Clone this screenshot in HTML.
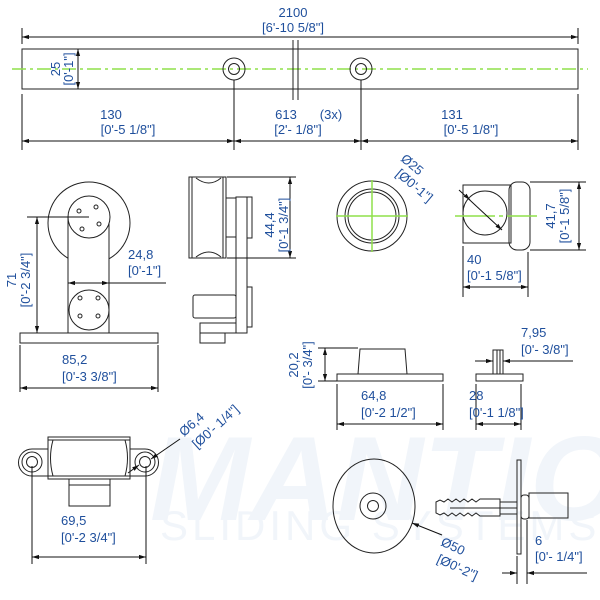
<!DOCTYPE html>
<html><head><meta charset="utf-8"><style>
html,body{margin:0;padding:0;background:#fff}
svg{display:block}
text{font-family:"Liberation Sans",sans-serif;font-size:13px;fill:#1f4f9c}
.l{stroke:#222;stroke-width:1;fill:none}
.d{stroke:#111;stroke-width:1;fill:none}
.g{stroke:#8fe04a;stroke-width:1.5;fill:none}
</style></head><body>
<svg width="600" height="600" viewBox="0 0 600 600" xmlns="http://www.w3.org/2000/svg">
<defs>
<marker id="a" viewBox="0 0 10 10" refX="10" refY="5" markerWidth="7" markerHeight="7" orient="auto-start-reverse"><path d="M0,2 L10,5 L0,8z" fill="#111"/></marker>
</defs>
<!-- watermark -->
<text x="150" y="520" style="font-size:120px;font-style:italic;font-weight:bold;fill:#f1f5fa">MANTION</text>
<text x="160" y="540" style="font-size:42px;fill:#f1f5fa;letter-spacing:4px">SLIDING SYSTEMS</text>

<!-- TOP BAR -->
<rect class="l" x="22" y="49" width="556" height="40"/>
<line class="g" x1="12" y1="69" x2="588" y2="69" stroke-dasharray="14,4,3,4"/>
<circle class="l" cx="234" cy="69" r="11"/><circle class="l" cx="234" cy="69" r="5.5"/>
<circle class="l" cx="361" cy="69" r="11"/><circle class="l" cx="361" cy="69" r="5.5"/>
<line x1="293" y1="40" x2="293" y2="100" class="l"/><line x1="298" y1="40" x2="298" y2="100" class="l"/>
<line class="d" x1="22" y1="28" x2="22" y2="44"/><line class="d" x1="578" y1="28" x2="578" y2="44"/>
<line class="d" x1="22" y1="37" x2="578" y2="37" marker-start="url(#a)" marker-end="url(#a)"/>
<text x="293" y="17" text-anchor="middle">2100</text>
<text x="293" y="32" text-anchor="middle">[6'-10 5/8"]</text>
<line class="d" x1="78" y1="49" x2="78" y2="89" marker-start="url(#a)" marker-end="url(#a)"/>
<text transform="translate(60,69) rotate(-90)" text-anchor="middle">25</text>
<text transform="translate(73,69) rotate(-90)" text-anchor="middle">[0'-1"]</text>
<line class="d" x1="22" y1="94" x2="22" y2="150"/><line class="d" x1="578" y1="94" x2="578" y2="150"/>
<line class="d" x1="234" y1="80" x2="234" y2="150"/><line class="d" x1="361" y1="80" x2="361" y2="150"/>
<line class="d" x1="22" y1="141" x2="234" y2="141" marker-start="url(#a)" marker-end="url(#a)"/>
<line class="d" x1="234" y1="141" x2="361" y2="141" marker-start="url(#a)" marker-end="url(#a)"/>
<line class="d" x1="361" y1="141" x2="578" y2="141" marker-start="url(#a)" marker-end="url(#a)"/>
<text x="111" y="119" text-anchor="middle">130</text>
<text x="128" y="134" text-anchor="middle">[0'-5 1/8"]</text>
<text x="286" y="119" text-anchor="middle">613</text>
<text x="331" y="119" text-anchor="middle">(3x)</text>
<text x="298" y="134" text-anchor="middle">[2'- 1/8"]</text>
<text x="452" y="119" text-anchor="middle">131</text>
<text x="471" y="134" text-anchor="middle">[0'-5 1/8"]</text>

<!-- LEFT FRONT VIEW -->
<circle class="l" cx="89" cy="223" r="41"/>
<rect x="68" y="217" width="41" height="116" fill="#fff" stroke="#222"/>
<circle class="l" cx="89" cy="217" r="21" fill="#fff" style="fill:#fff"/>
<circle cx="79" cy="211" r="2" class="l"/><circle cx="96" cy="207" r="2" class="l"/><circle cx="82" cy="229" r="2" class="l"/><circle cx="99" cy="224" r="2" class="l"/>
<circle class="l" cx="89" cy="310" r="20" style="fill:#fff"/>
<circle cx="80" cy="298" r="2" class="l"/><circle cx="98" cy="298" r="2" class="l"/><circle cx="80" cy="316" r="2" class="l"/><circle cx="98" cy="316" r="2" class="l"/>
<rect class="l" x="20" y="333" width="138" height="10"/>
<line class="d" x1="27" y1="217" x2="89" y2="217"/>
<line class="d" x1="37" y1="217" x2="37" y2="333" marker-start="url(#a)" marker-end="url(#a)"/>
<text transform="translate(16,280) rotate(-90)" text-anchor="middle">71</text>
<text transform="translate(30,280) rotate(-90)" text-anchor="middle">[0'-2 3/4"]</text>
<line class="d" x1="68" y1="283" x2="109" y2="283" marker-start="url(#a)" marker-end="url(#a)"/>
<line class="d" x1="109" y1="283" x2="166" y2="283"/>
<text x="128" y="259">24,8</text>
<text x="128" y="275">[0'-1"]</text>
<line class="d" x1="20" y1="345" x2="20" y2="392"/><line class="d" x1="158" y1="345" x2="158" y2="392"/>
<line class="d" x1="20" y1="388" x2="158" y2="388" marker-start="url(#a)" marker-end="url(#a)"/>
<text x="62" y="364">85,2</text>
<text x="62" y="381">[0'-3 3/8"]</text>

<!-- SIDE VIEW -->
<path class="l" d="M189,177 L226,177 L226,258 L189,258 Z"/>
<path class="l" d="M192,177 L192,258 M223,177 L223,258"/>
<path class="l" d="M196,178 Q209,188 221,178 M196,257 Q209,247 221,257"/>
<rect class="l" x="226" y="198" width="10" height="39"/>
<rect class="l" x="236" y="197" width="11" height="136"/>
<rect class="l" x="247" y="197" width="5" height="41"/>
<rect class="l" x="247" y="287" width="5" height="40"/>
<rect class="l" x="193" y="295" width="43" height="23" rx="2"/>
<rect class="l" x="200" y="323" width="36" height="10"/>
<rect class="l" x="200" y="333" width="25" height="10"/>
<line class="d" x1="227" y1="177" x2="296" y2="177"/><line class="d" x1="227" y1="258" x2="296" y2="258"/>
<line class="d" x1="290" y1="177" x2="290" y2="258" marker-start="url(#a)" marker-end="url(#a)"/>
<text transform="translate(274,225) rotate(-90)" text-anchor="middle">44,4</text>
<text transform="translate(288,225) rotate(-90)" text-anchor="middle">[0'-1 3/4"]</text>

<!-- CIRCLE VIEW -->
<circle class="l" cx="372" cy="216" r="35"/>
<circle class="l" cx="372" cy="216" r="27"/>
<circle class="l" cx="372" cy="216" r="24"/>
<line class="g" x1="336" y1="216" x2="408" y2="216"/>
<line class="g" x1="372" y1="180" x2="372" y2="252"/>

<!-- RIGHT VIEW -->
<rect class="l" x="463" y="185" width="48" height="58"/>
<circle class="l" cx="485" cy="213" r="22"/>
<rect class="l" x="509" y="182" width="21" height="68" rx="8"/>
<line class="g" x1="455" y1="216" x2="537" y2="216" stroke-dasharray="40,4,4,4"/>
<line class="d" x1="459" y1="190" x2="502" y2="230" marker-end="url(#a)"/>
<line class="d" x1="470" y1="200" x2="468" y2="198" marker-start="url(#a)"/>
<text transform="translate(400,160) rotate(40)">Ø25</text>
<text transform="translate(395,175) rotate(40)">[Ø0'-1"]</text>
<line class="d" x1="530" y1="182" x2="586" y2="182"/><line class="d" x1="530" y1="250" x2="586" y2="250"/>
<line class="d" x1="579" y1="182" x2="579" y2="250" marker-start="url(#a)" marker-end="url(#a)"/>
<text transform="translate(555,216) rotate(-90)" text-anchor="middle">41,7</text>
<text transform="translate(569,216) rotate(-90)" text-anchor="middle">[0'-1 5/8"]</text>
<line class="d" x1="463" y1="246" x2="463" y2="297"/><line class="d" x1="528" y1="252" x2="528" y2="297"/>
<line class="d" x1="463" y1="287" x2="528" y2="287" marker-start="url(#a)" marker-end="url(#a)"/>
<text x="467" y="264">40</text>
<text x="467" y="280">[0'-1 5/8"]</text>

<!-- BOTTOM MIDDLE PART -->
<rect class="l" x="337" y="374" width="106" height="7"/>
<path class="l" d="M358,374 L360,349 L405,349 L407,374"/>
<line class="d" x1="318" y1="348" x2="358" y2="348"/><line class="d" x1="318" y1="381" x2="337" y2="381"/>
<line class="d" x1="325" y1="348" x2="325" y2="381" marker-start="url(#a)" marker-end="url(#a)"/>
<text transform="translate(298,365) rotate(-90)" text-anchor="middle">20,2</text>
<text transform="translate(312,365) rotate(-90)" text-anchor="middle">[0'- 3/4"]</text>
<line class="d" x1="337" y1="384" x2="337" y2="430"/><line class="d" x1="443" y1="384" x2="443" y2="430"/>
<line class="d" x1="337" y1="424" x2="443" y2="424" marker-start="url(#a)" marker-end="url(#a)"/>
<text x="361" y="400">64,8</text>
<text x="361" y="417">[0'-2 1/2"]</text>

<!-- SMALL PART -->
<rect class="l" x="476" y="374" width="47" height="7"/>
<rect class="l" x="493" y="350" width="10" height="24"/>
<line class="l" x1="497" y1="350" x2="497" y2="374"/><line class="l" x1="500" y1="350" x2="500" y2="374"/>
<line class="d" x1="475" y1="361" x2="493" y2="361" marker-end="url(#a)"/>
<line class="d" x1="573" y1="361" x2="503" y2="361" marker-end="url(#a)"/>
<text x="521" y="337">7,95</text>
<text x="521" y="354">[0'- 3/8"]</text>
<line class="d" x1="476" y1="384" x2="476" y2="430"/><line class="d" x1="521" y1="384" x2="521" y2="430"/>
<line class="d" x1="476" y1="424" x2="521" y2="424" marker-start="url(#a)" marker-end="url(#a)"/>
<text x="469" y="400">28</text>
<text x="469" y="417">[0'-1 1/8"]</text>

<!-- BOTTOM LEFT ROLLER TOP -->
<path class="l" d="M32,449 L145,449 A13.5,13.5 0 0 1 145,476 L32,476 A13.5,13.5 0 0 1 32,449 Z"/>
<rect x="48" y="437" width="82" height="42" fill="#fff" stroke="#222"/>
<line class="l" x1="48" y1="440" x2="130" y2="440"/><line class="l" x1="48" y1="476" x2="130" y2="476"/>
<path class="l" d="M53,440 Q48,458 53,476 M125,440 Q130,458 125,476"/>
<circle class="l" cx="32" cy="462" r="10"/><circle class="l" cx="32" cy="462" r="5.5"/>
<circle class="l" cx="145" cy="462" r="10"/><circle class="l" cx="145" cy="462" r="5.5"/>
<rect class="l" x="69" y="479" width="41" height="27"/>
<line class="l" x1="69" y1="485" x2="110" y2="485"/>
<line class="d" x1="180" y1="439" x2="151" y2="459" marker-end="url(#a)"/>
<line class="d" x1="128" y1="473" x2="139" y2="465" marker-end="url(#a)"/>
<text transform="translate(184,437) rotate(-42)">Ø6,4</text>
<text transform="translate(197,449) rotate(-42)">[Ø0'- 1/4"]</text>
<line class="d" x1="32" y1="466" x2="32" y2="564"/><line class="d" x1="146" y1="466" x2="146" y2="564"/>
<line class="d" x1="32" y1="557" x2="146" y2="557" marker-start="url(#a)" marker-end="url(#a)"/>
<text x="61" y="525">69,5</text>
<text x="61" y="542">[0'-2 3/4"]</text>

<!-- DISC -->
<ellipse class="l" cx="374" cy="506" rx="41" ry="47"/>
<circle class="l" cx="373" cy="506" r="13"/><circle class="l" cx="373" cy="506" r="5.5"/>
<line class="d" x1="442" y1="535" x2="412" y2="523" marker-end="url(#a)"/>
<text transform="translate(440,545) rotate(25)">Ø50</text>
<text transform="translate(436,562) rotate(25)">[Ø0'-2"]</text>
<!-- anchor -->
<path class="l" d="M436,502 L440,500 L444,502 L448,499 L452,502 L456,499 L460,502 L464,499 L468,502 L472,499 L476,502 L480,499 L500,499 L500,516 L480,516 L476,513 L472,516 L468,513 L464,516 L460,513 L456,516 L452,513 L448,516 L444,513 L440,515 L436,513 Z"/>
<line class="l" x1="450" y1="508" x2="517" y2="508"/>
<rect class="l" x="500" y="502" width="17" height="12"/>
<path class="l" d="M517,460 L521,460 L521,554 L517,554 Z"/>
<rect class="l" x="521" y="495" width="8" height="24" rx="3"/>
<rect class="l" x="529" y="493" width="39" height="25"/>
<line class="d" x1="517" y1="556" x2="517" y2="584"/><line class="d" x1="527" y1="520" x2="527" y2="584"/>
<line class="d" x1="502" y1="573" x2="517" y2="573" marker-end="url(#a)"/>
<line class="d" x1="587" y1="573" x2="527" y2="573" marker-end="url(#a)"/>
<text x="535" y="545">6</text>
<text x="535" y="561">[0'- 1/4"]</text>
</svg>
</body></html>
